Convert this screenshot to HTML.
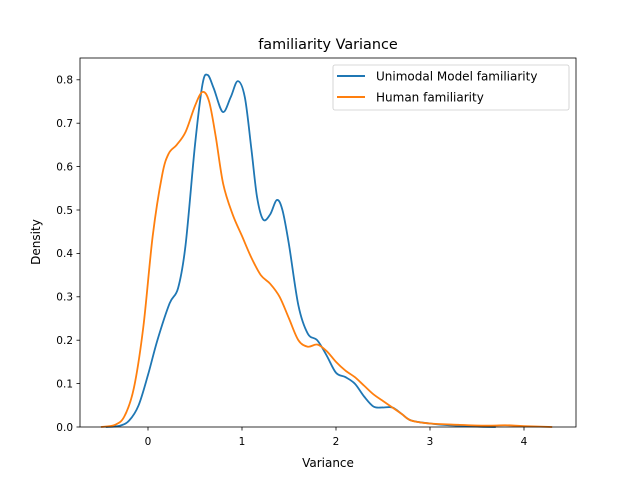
<!DOCTYPE html>
<html><head><meta charset="utf-8"><style>
body{margin:0;background:#fff;font-family:"Liberation Sans","DejaVu Sans",sans-serif}
svg text{font-family:"DejaVu Sans","Liberation Sans",sans-serif}
</style></head><body>
<svg id="chart" width="640" height="480" xmlns="http://www.w3.org/2000/svg">
<rect width="640" height="480" fill="#fff"/>
<text x="328" y="49" font-size="14.4" text-anchor="middle">familiarity Variance</text>
<g id="ticks"></g>
<g id="lines"></g>
<rect x="80" y="58" width="496" height="369" fill="none" stroke="#000" stroke-width="0.8"/>
<text x="328" y="467" font-size="12" text-anchor="middle">Variance</text>
<text transform="translate(40,242) rotate(-90)" font-size="12" text-anchor="middle">Density</text>
<g>
<rect x="333" y="65" width="236" height="45" rx="2" fill="#fff" stroke="#ccc" stroke-width="0.8"/>
<line x1="337" y1="76" x2="365" y2="76" stroke="#1f77b4" stroke-width="2"/>
<text x="376" y="80.5" font-size="12">Unimodal Model familiarity</text>
<line x1="337" y1="97" x2="365" y2="97" stroke="#ff7f0e" stroke-width="2"/>
<text x="376" y="101.5" font-size="12">Human familiarity</text>
</g>
</svg>
<script>
const xTicks=[0,1,2,3,4];
const yTicks=[0,0.1,0.2,0.3,0.4,0.5,0.6,0.7,0.8];
const unimodalX=[-0.45,-0.3,-0.2,-0.1,0,0.1,0.23,0.32,0.4,0.5,0.58,0.635,0.7,0.795,0.88,0.955,1.03,1.1,1.16,1.225,1.3,1.37,1.43,1.5,1.6,1.7,1.8,1.9,2.0,2.1,2.2,2.3,2.4,2.5,2.6,2.7,2.8,3.0,3.2,3.5,3.7];
const unimodalY=[0,0.003,0.015,0.05,0.12,0.2,0.285,0.32,0.42,0.65,0.79,0.811,0.78,0.726,0.76,0.797,0.76,0.64,0.53,0.478,0.49,0.523,0.5,0.42,0.28,0.215,0.2,0.165,0.125,0.115,0.1,0.07,0.047,0.045,0.045,0.03,0.015,0.008,0.004,0.001,0];
const humanX=[-0.5,-0.35,-0.25,-0.15,-0.05,0.05,0.15,0.22,0.305,0.4,0.5,0.58,0.65,0.72,0.8,0.9,1.0,1.1,1.2,1.3,1.4,1.5,1.6,1.7,1.8,1.9,2.0,2.1,2.2,2.3,2.4,2.5,2.6,2.7,2.8,3.0,3.3,3.6,3.8,4.0,4.3];
const humanY=[0,0.005,0.025,0.09,0.23,0.44,0.58,0.63,0.65,0.68,0.74,0.772,0.75,0.67,0.56,0.49,0.44,0.39,0.35,0.33,0.3,0.25,0.2,0.185,0.19,0.175,0.15,0.13,0.115,0.095,0.075,0.06,0.045,0.03,0.015,0.008,0.005,0.003,0.004,0.002,0];
const X=v=>148+v*94, Y=v=>427-v*434;
const NS="http://www.w3.org/2000/svg";
const tg=document.getElementById('ticks');
function mk(t,a){const e=document.createElementNS(NS,t);for(const k in a)e.setAttribute(k,a[k]);return e;}
xTicks.forEach(t=>{
 const l=mk('line',{x1:X(t),x2:X(t),y1:427,y2:430.5,stroke:'#000','stroke-width':0.8});
 
 
 tg.appendChild(l);
 const tx=mk('text',{x:X(t),y:445,'font-size':10.5,'text-anchor':'middle'});tx.textContent=t;
 
 
 tg.appendChild(tx);
});
yTicks.forEach(t=>{
 const l=mk('line',{x1:76.5,x2:80,y1:Y(t),y2:Y(t),stroke:'#000','stroke-width':0.8});
 
 
 tg.appendChild(l);
 const tx=mk('text',{x:73,y:Y(t)+3.8,'font-size':10.5,'text-anchor':'end'});tx.textContent=t.toFixed(1);
 
 
 tg.appendChild(tx);
});
function pathD(xs,ys){
 const p=xs.map((x,i)=>[X(x),Y(ys[i])]);
 let d='M'+p[0][0]+','+p[0][1];
 for(let i=0;i<p.length-1;i++){
  const p0=p[Math.max(0,i-1)],p1=p[i],p2=p[i+1],p3=p[Math.min(p.length-1,i+2)];
  const c1=[p1[0]+(p2[0]-p0[0])/6,p1[1]+(p2[1]-p0[1])/6];
  const c2=[p2[0]-(p3[0]-p1[0])/6,p2[1]-(p3[1]-p1[1])/6];
  d+=' C'+c1+' '+c2+' '+p2;
 }
 return d;
}
const lg=document.getElementById('lines');
const l1=mk('path',{d:pathD(unimodalX,unimodalY),fill:'none',stroke:'#1f77b4','stroke-width':1.8});


lg.appendChild(l1);
const l2=mk('path',{d:pathD(humanX,humanY),fill:'none',stroke:'#ff7f0e','stroke-width':1.8});


lg.appendChild(l2);
</script>
</body></html>
